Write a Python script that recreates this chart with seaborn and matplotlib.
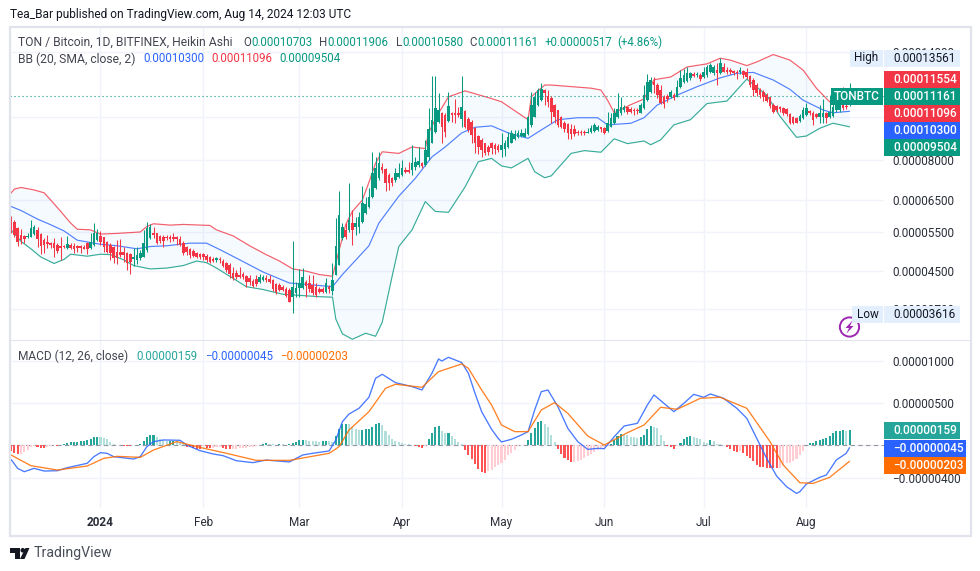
import numpy as np
import pandas as pd
import seaborn as sns
import matplotlib.pyplot as plt
from matplotlib.patches import Rectangle, Circle, Polygon
from matplotlib.transforms import IdentityTransform
from matplotlib.ticker import FixedLocator, FixedFormatter, NullLocator

# all prices are in units of 0.00000001 BTC
ha_open = [5965,5812,5615,5424,5397,5360,5378,5453,5567,5443,
    5286,5240,5213,5195,5150,5124,5124,5062,5150,5124,
    5124,5124,5106,5195,5062,5150,5286,5397,5360,5240,
    5150,5106,4976,4976,4976,4933,4916,4781,4765,4806,
    4848,5019,5332,5471,5471,5397,5378,5378,5360,5360,
    5360,5323,5195,5106,5036,5002,4950,4916,4916,4865,
    4848,4798,4765,4798,4749,4684,4643,4447,4447,4409,
    4431,4386,4334,4281,4311,4245,4296,4334,4311,4296,
    4208,4186,4136,4093,4079,3941,4009,4115,4115,4259,
    4237,4186,4150,4093,4093,4044,4150,4065,4409,4643,
    5332,5567,5567,5762,5664,5664,5812,6069,6282,6616,
    6908,7275,7728,7622,7414,7288,7213,7338,7414,7596,
    7596,7596,7728,7795,7890,7795,8139,8722,9265,9758,
    10188,10100,9808,10225,10188,10188,9876,10313,9876,9758,
    9426,9060,8874,8722,8572,8722,8647,8605,8425,8450,
    8543,8752,8905,8999,9060,9029,9155,9590,10014,10640,
    10917,11497,11145,11010,10640,10366,9980,9708,9640,9376,
    9376,9265,9265,9265,9218,9265,9295,9345,9475,9426,
    9315,9508,9674,9980,10188,10366,10510,10440,10366,10366,
    10188,10455,10917,11400,12005,11800,11497,11107,11145,11107,
    11203,11107,11660,12005,12068,12215,12492,12407,12428,12278,
    12428,12642,12536,12780,12536,12930,12780,12760,12710,12642,
    12600,12710,12642,12364,12110,11800,11497,11400,11203,11070,
    10640,10582,10510,10455,10400,10150,9980,9928,9808,9928,
    10100,10330,10225,10150,10014,9980,10188,9980,10050,10366,
    10366,10640,10582,10703]
ha_high = [5986,5863,5664,5586,5424,5471,5863,5713,5664,5471,
    5332,5424,5240,5332,5195,5360,5150,5397,5195,5195,
    5150,5150,5150,5240,5471,5762,5586,5548,5378,5268,
    5195,5124,5286,5304,5106,4976,4933,5062,5106,5019,
    5567,5812,5742,5664,5490,5424,5424,5424,5424,5471,
    5397,5397,5268,5124,5062,5036,4976,4950,4933,4916,
    4865,4831,4848,4831,4781,4725,4684,4603,4525,4603,
    4486,4409,4409,4311,4409,4431,4409,4409,4409,4311,
    4223,4223,4186,4150,4115,5268,4245,4541,4564,4296,
    4409,4409,4223,4136,4136,4334,4186,4684,5914,6824,
    5762,5782,7114,6174,5965,6122,6992,6616,6907,8350,
    8139,8350,7863,7660,7466,7338,7660,7863,8000,7728,
    7931,8647,8139,8573,7931,8874,10455,12364,12364,11300,
    10277,10188,11400,10277,10955,10546,12364,10366,10014,9842,
    9508,9108,8952,8752,8647,8797,8722,8680,9186,8874,
    9265,9345,9345,9345,9376,9426,10050,11400,11400,11600,
    11902,11536,11497,11145,10693,10366,10050,9808,9674,9640,
    9590,9345,9345,9345,9426,9590,9674,9590,9508,9475,
    10277,10188,10455,11340,11107,10640,10546,10510,10455,10455,
    10730,11800,12526,12321,12278,11902,11800,11203,11260,11497,
    11300,12110,12750,12815,12970,12645,12600,12600,12536,12975,
    13090,13200,13090,13200,13548,13200,12930,12860,12780,12780,
    12930,12780,12860,12428,12215,11902,11600,11497,11340,11107,
    10730,10640,10582,10510,10455,10188,10050,9980,10150,10510,
    10730,10366,10330,10225,10640,10955,10277,11203,10917,11107,
    11300,11698,10693,11906]
ha_low = [5471,5360,5133,5168,5195,5341,5360,5424,5106,4916,
    4933,5062,5062,4848,4933,4765,5062,5036,5036,4950,
    4976,4933,5036,4916,5036,5124,5268,5150,4976,4933,
    4765,4684,4667,4848,4725,4525,4431,4619,4667,4765,
    4831,4976,5304,5332,5177,5195,5089,5286,5240,5268,
    5150,5124,4890,4890,4806,4831,4806,4781,4765,4725,
    4684,4717,4725,4684,4587,4486,4334,4296,4311,4334,
    4311,4150,4186,4136,4165,4223,4281,4259,4237,4065,
    3995,4065,4065,3927,3840,3615,3927,3941,4093,3927,
    4044,3975,3941,4023,4009,4009,4009,3975,4409,4643,
    5286,5304,5519,5150,5424,5471,5782,6048,6228,6560,
    6872,7213,7466,6824,6848,6992,7151,7275,7375,7466,
    7466,7414,7596,7728,7660,7755,8000,8722,9186,9674,
    8722,9029,9758,9758,9674,10014,9508,9426,9265,8722,
    8305,8250,8139,8210,8210,8250,8250,8350,8110,8165,
    8497,8722,8874,8952,8999,8999,9108,9508,9980,10582,
    10880,10640,10510,9674,9674,9508,9426,9265,8905,8905,
    9060,9108,9108,9108,9186,9186,9265,9295,9265,9155,
    9265,9475,9640,9928,10100,10277,10150,10188,10100,10150,
    10188,10400,10880,11340,11300,11010,10693,10455,10825,11010,
    10917,11070,11600,11940,12005,12110,12278,12321,12068,12215,
    12321,12536,12428,11800,12492,12600,12492,12492,12428,12152,
    12492,12215,12152,11698,11145,11145,11010,10880,10825,10455,
    10225,10277,10277,10100,10050,9640,9640,9674,9758,9876,
    10050,10100,9590,9928,9674,9708,9674,9928,9980,10277,
    10277,10366,10440,10580]
ha_close = [5567,5424,5240,5286,5323,5397,5615,5664,5304,5124,
    5150,5168,5150,5062,5002,5062,5089,5177,5062,5036,
    5062,5062,5053,5036,5240,5471,5490,5240,5106,4976,
    4933,4806,4806,4890,4890,4700,4725,4848,4890,4950,
    5195,5615,5664,5424,5195,5268,5268,5332,5323,5323,
    5304,5150,4933,4976,4890,4865,4848,4831,4831,4765,
    4725,4749,4806,4765,4619,4525,4431,4334,4356,4356,
    4371,4259,4259,4165,4208,4371,4356,4296,4259,4093,
    4044,4079,4079,3955,3840,4136,4115,4223,4371,4165,
    4093,4009,3975,4044,4044,4223,4093,4296,5124,6017,
    5664,5378,5863,5567,5782,5965,6391,6369,6616,7466,
    7660,7863,7596,7089,7114,7114,7466,7492,7660,7518,
    7518,7890,7931,7973,7755,8425,9376,9842,10455,10366,
    9508,9265,10582,10100,10100,10100,10510,9508,9345,9108,
    8722,8572,8425,8305,8350,8497,8450,8425,8647,8722,
    9029,9186,9155,9218,9186,9218,9980,10640,11107,11497,
    11536,11300,10825,10277,9980,9590,9508,9376,9186,9155,
    9155,9186,9186,9186,9265,9426,9590,9508,9376,9218,
    9674,9928,10188,10400,10510,10510,10277,10260,10295,10295,
    10640,11203,12005,12110,11800,11203,10765,10693,10955,11400,
    11010,11698,12215,12428,12536,12536,12385,12492,12152,12642,
    12975,13090,12975,12536,13200,12642,12600,12600,12536,12536,
    12780,12428,12321,11800,11497,11300,11203,11107,10880,10582,
    10277,10366,10400,10225,10150,9708,9674,9708,10050,10366,
    10455,10188,9842,9980,10188,10225,9928,10277,10546,10640,
    10693,10455,10510,11161]

# Bollinger bands, read at the bends of each line
bb_up_days = [0,1,3,7,10,12,15,18,20,24,27,32,39,41,43,48,52,60,62,67,72,77,81,85,89,93,97,
    101,103,106,108,110,112,117,121,125,126,129,132,137,145,148,156,157,161,163,175,178,180,182,
    187,191,194,199,204,210,214,217,222,225,230,235,239,243,247,250,253]
bb_up = [6740,6880,6940,6850,6750,6500,6130,5770,5590,5570,5450,5470,5510,5670,5750,5710,5730,5700,5570,5400,5130,4900,4740,4550,4500,4420,4380,
    5730,6130,6500,7130,7870,8350,8280,8560,8490,9220,10200,11100,11450,11000,10820,9860,11107,11800,11800,11610,11500,10910,10220,
    10660,10980,12130,12300,12960,13170,13560,13430,13050,13300,13820,13430,12750,11610,10820,10850,11096]
bb_mid_days = [0,3,8,12,16,20,27,32,38,42,47,54,59,63,69,76,84,89,97,100,108,111,117,122,127,131,136,140,145,
    150,156,160,165,171,177,180,187,191,195,201,207,214,219,224,230,235,239,245,248,253]
bb_mid = [6290,6160,5890,5720,5540,5280,5170,5130,5050,5110,5130,5200,5200,5030,4770,4480,4230,4200,4150,4420,5130,5770,6630,7280,8130,8560,9210,9480,9550,
    9210,8950,9350,9860,9960,9960,9600,9680,9960,10640,11200,11700,12250,12540,12600,12110,11540,10910,10370,10220,10300]
bb_low_days = [0,3,6,9,13,16,18,23,27,30,34,37,42,47,52,56,59,62,66,71,76,82,93,97,98,100,103,107,110,112,115,117,121,125,128,132,137,141,145,
    148,151,156,158,161,163,169,173,178,182,186,191,193,196,200,205,210,216,222,228,232,237,240,244,248,253]
bb_low = [5570,5250,5050,4840,4680,4780,4910,4860,4910,4900,4770,4630,4550,4570,4630,4740,4700,4570,4380,4150,4090,3990,3940,3930,3510,3250,3160,3260,3210,3450,4380,5110,5570,6450,6130,6100,6960,7930,8070,
    7760,7680,8070,7530,7300,7370,8280,8400,8330,8930,8710,8830,8660,8880,9600,9860,10720,10860,12170,11200,10040,9000,9060,9430,9680,9504]

macd_days = [0,2,4,7,10,14,17,23,25,27,29,31,37,39,41,43,46,51,53,57,61,64,68,73,77,84,88,91,96,98,100,102,105,108,110,112,116,121,124,127,129,130,132,136,138,140,142,145,
    147,148,151,154,156,158,160,162,165,168,171,174,177,179,182,185,189,192,194,197,200,203,206,209,211,215,219,222,225,228,231,234,237,238,240,244,246,249,252,253]
macd = [-175,-282,-322,-282,-314,-310,-274,-222,-143,-95,-103,-143,-171,-143,-24,36,56,52,-4,-71,-111,-131,-191,-214,-183,-206,-123,-103,-75,56,274,365,433,564,790,838,738,691,651,850,1020,996,1040,977,850,611,393,183,
    75,32,64,115,155,413,631,651,453,195,36,-56,-44,-48,95,222,254,472,592,492,393,492,599,564,603,552,433,314,75,-163,-373,-500,-580,-560,-468,-389,-361,-183,-103,-36]
signal_days = [0,6,14,23,28,32,39,43,50,57,65,74,84,96,99,102,108,113,116,124,129,136,138,142,145,
    148,152,156,160,164,168,174,179,186,191,196,201,208,214,222,229,233,238,242,247,253]
signal = [-123,-250,-302,-254,-163,-139,-151,-64,36,-32,-103,-187,-187,-103,-24,175,393,671,719,683,869,961,909,651,472,
    234,155,155,413,500,373,103,-4,143,234,445,421,552,564,433,36,-242,-453,-461,-389,-198]
hist = [-72,-96,-112,-108,-88,-64,-32,-16,-24,-40,
    -40,-24,-12,-8,-12,-4,8,24,28,32,
    36,40,48,56,72,88,96,92,80,64,
    36,12,-4,-8,-12,-16,-16,-8,-4,8,
    40,96,116,120,96,72,56,44,48,48,
    40,24,8,-24,-32,-40,-52,-56,-20,-36,
    -40,-36,-32,-28,-44,-48,-56,-52,-48,-44,
    -40,-36,-32,-24,-16,-4,12,20,12,4,
    -4,8,4,-4,8,16,32,52,60,56,
    48,44,40,36,40,48,40,36,100,192,
    240,242,240,208,184,176,178,184,192,216,
    240,260,232,160,112,72,48,32,20,12,
    4,-8,-16,-24,-36,-12,72,140,216,224,
    168,136,144,108,72,32,12,-60,-120,-176,
    -232,-288,-320,-340,-312,-300,-260,-248,-224,-180,
    -128,-96,-64,-16,-8,0,56,140,200,264,
    284,240,208,120,32,-56,-112,-160,-188,-208,
    -206,-200,-184,-160,-136,-112,-88,-64,-40,-24,
    -12,12,60,100,128,120,112,96,88,80,
    88,120,184,224,216,200,120,48,-20,-32,
    -48,-12,24,64,88,108,96,84,72,32,
    24,56,40,12,8,-8,-24,-48,-72,-88,
    -80,-104,-140,-160,-200,-240,-260,-268,-272,-274,
    -276,-280,-272,-248,-224,-220,-200,-176,-128,-72,
    -8,16,24,40,56,72,80,104,144,160,
    168,170,160,172]

month_days = [27, 58, 87, 118, 148, 179, 209, 240]
month_labels = ["2024", "Feb", "Mar", "Apr", "May", "Jun", "Jul", "Aug"]
price_ticks = [14000, 10000, 8000, 6500, 5500, 4500, 3700]
# the labels at 0.0001 and at zero sit fully behind the value boxes in the reference
price_tick_labels = ["0.00014000", "", "0.00008000", "0.00006500", "0.00005500", "0.00004500", "0.00003700"]
macd_ticks = [1000, 500, 0, -400]
macd_tick_labels = ["0.00001000", "0.00000500", "", "\u22120.00000400"]
last_close = 11161

UP, DOWN = "#089981", "#f23645"
BLUE = "#2962ff"
ORANGE = "#ff6d00"
GRID = "#f0f3fa"
TEXT = "#131722"
LEGEND_GREY = "#434651"
FONT = "Roboto"
VALUE_SIZE = 8.3

W, H = 980, 571

sns.set_theme(style="white")
plt.rcParams["font.family"] = [FONT, "DejaVu Sans"]
plt.rcParams["axes.unicode_minus"] = False

fig = plt.figure(figsize=(W / 100, H / 100), dpi=100)


def pane(left, top, right, bottom):
    # axes placed by pixel edges
    return fig.add_axes([left / W, 1 - bottom / H, (right - left) / W, (bottom - top) / H])


def px_text(x, y, s, color=TEXT, size=VALUE_SIZE, ha="left", **kw):
    return fig.text(x / W, 1 - y / H, s, color=color, fontsize=size, ha=ha, va="center", zorder=12, **kw)


def box(x0, y0, x1, y1, color, z=10):
    fig.add_artist(Rectangle((x0, H - y1), x1 - x0, y1 - y0, transform=IdentityTransform(),
                             facecolor=color, edgecolor="none", zorder=z))


ax = pane(10, 28, 884, 340)
ax2 = pane(10, 341, 884, 508)

days = np.arange(len(ha_close))
df = pd.DataFrame({"day": days, "open": ha_open, "high": ha_high, "low": ha_low, "close": ha_close, "hist": hist})

# price pane
ax.set_yscale("log")
poly_x = bb_up_days + bb_low_days[::-1]
poly_y = bb_up + bb_low[::-1]
ax.fill(poly_x, poly_y, color="#2196f3", alpha=0.045, lw=0, zorder=1)
sns.lineplot(x=bb_up_days, y=bb_up, ax=ax, color=DOWN, lw=0.85, alpha=0.8, zorder=2)
sns.lineplot(x=bb_mid_days, y=bb_mid, ax=ax, color=BLUE, lw=0.85, alpha=0.8, zorder=2)
sns.lineplot(x=bb_low_days, y=bb_low, ax=ax, color=UP, lw=0.85, alpha=0.8, zorder=2)

candle_colors = np.where(df["close"] >= df["open"], UP, DOWN)
ax.vlines(df["day"], df["low"], df["high"], colors=candle_colors, lw=0.75, zorder=3)
ax.bar(df["day"], (df["close"] - df["open"]).abs(), bottom=df[["open", "close"]].min(axis=1),
       width=0.78, color=candle_colors, lw=0, zorder=3)
ax.axhline(last_close, color=UP, lw=0.8, ls=(0, (1, 2.6)), zorder=2)

ax.set_ylim(3148, 15859)
ax.yaxis.set_major_locator(FixedLocator(price_ticks))
ax.yaxis.set_major_formatter(FixedFormatter(price_tick_labels))
ax.yaxis.set_minor_locator(NullLocator())
ax.yaxis.tick_right()
ax.set_xticks(month_days)
ax.set_xticklabels([])

# macd pane
prev = df["hist"].shift(1).fillna(df["hist"])
hist_colors = []
for h, p in zip(df["hist"], prev):
    if h >= 0:
        hist_colors.append("#26a69a" if h >= p else "#b2dfdb")
    else:
        hist_colors.append("#ff5252" if h <= p else "#ffcdd2")
df["hist_color"] = hist_colors

ax2.axhline(0, color="#9598a1", lw=0.8, ls=(0, (4, 3)), zorder=1)
sns.barplot(data=df, x="day", y="hist", hue="hist_color", palette={c: c for c in set(hist_colors)},
            native_scale=True, dodge=False, width=0.62, saturation=1, errorbar=None, legend=False,
            linewidth=0, ax=ax2, zorder=2)
sns.lineplot(x=macd_days, y=macd, ax=ax2, color=BLUE, lw=0.95, alpha=0.85, zorder=3)
sns.lineplot(x=signal_days, y=signal, ax=ax2, color=ORANGE, lw=0.95, alpha=0.85, zorder=4)
ax2.set_ylim(-754, 1234)
ax2.yaxis.set_major_locator(FixedLocator(macd_ticks))
ax2.yaxis.set_major_formatter(FixedFormatter(macd_tick_labels))
ax2.yaxis.tick_right()
ax2.set_xticks(month_days)
ax2.set_xticklabels(month_labels)
ax2.get_xticklabels()[0].set_fontweight("bold")
ax2.set_xlabel("")
ax2.set_ylabel("")

for a in (ax, ax2):
    a.set_xlim(-0.3, 263.4)
    a.set_ylabel("")
    a.grid(True, color=GRID, lw=1)
    a.set_axisbelow(True)
    a.tick_params(axis="both", length=0, labelsize=8.5, labelcolor="#2a2e39")
    a.tick_params(axis="y", pad=6)
    a.patch.set_alpha(0)
    for s in a.spines.values():
        s.set_visible(False)
ax2.tick_params(axis="x", pad=6)

# frame round the two panes
fig.add_artist(Rectangle((9.5, H - 536), 961, 509.5, transform=IdentityTransform(), facecolor="none",
                         edgecolor="#e0e3eb", lw=1.6, zorder=6))
box(10, 340, 970, 341, "#e0e3eb", z=6)

# header lines
px_text(10, 14.5, "Tea_Bar published on TradingView.com, Aug 14, 2024 12:03 UTC", size=8.57)
px_text(18, 42, "TON / Bitcoin, 1D, BITFINEX, Heikin Ashi", color=LEGEND_GREY, size=8.75)
header = [(243, "O", LEGEND_GREY), (251, "0.00010703", UP), (319, "H", LEGEND_GREY), (327, "0.00011906", UP),
          (396, "L", LEGEND_GREY), (402, "0.00010580", UP), (469, "C", LEGEND_GREY), (477, "0.00011161", UP),
          (545, "+0.00000517", UP), (617, "(+4.86%)", UP)]
for x, s, c in header:
    px_text(x, 42, s, color=c)
px_text(18, 59, "BB (20, SMA, close, 2)", color=LEGEND_GREY, size=8.7)
for x, s, c in [(143, "0.00010300", BLUE), (211, "0.00011096", DOWN), (279, "0.00009504", UP)]:
    px_text(x, 59, s, color=c)
px_text(18, 356, "MACD (12, 26, close)", color=LEGEND_GREY, size=8.6)
for x, s, c in [(136, "0.00000159", "#26a69a"), (205, "\u22120.00000045", BLUE), (280, "\u22120.00000203", ORANGE)]:
    px_text(x, 356, s, color=c)

# labels on the price scale
HILO = "#e3effd"
box(850, 50, 883, 66.5, HILO)
box(884, 50, 960, 66.5, HILO)
px_text(866.5, 58, "High", ha="center", size=8.5)
px_text(893, 58, "0.00013561", size=8.5)
box(852, 306, 883, 322.5, HILO)
box(884, 306, 960, 322.5, HILO)
px_text(867.5, 314.5, "Low", ha="center", size=8.5)
px_text(893, 314.5, "0.00003616", size=8.5)

scale_labels = [(71.3, 88, DOWN, "0.00011554"), (88, 105, UP, "0.00011161"), (105, 122, DOWN, "0.00011096"),
                (122, 139, BLUE, "0.00010300"), (139, 156, UP, "0.00009504")]
for y0, y1, c, s in scale_labels:
    box(884, y0, 960, y1, c)
    px_text(893, (y0 + y1) / 2, s, color="white", size=8.5, fontweight="medium")
box(831, 88, 883, 105, UP)
px_text(857, 96.5, "TONBTC", color="white", ha="center", size=8.5, fontweight="medium")

macd_labels = [(422, 439, 960, "#26a69a", "0.00000159"), (440, 457, 966, BLUE, "\u22120.00000045"),
               (457, 474, 966, ORANGE, "\u22120.00000203")]
for y0, y1, x1, c, s in macd_labels:
    box(884, y0, x1, y1, c)
    px_text(893, (y0 + y1) / 2, s, color="white", size=8.5, fontweight="medium")

# purple bolt badge
fig.add_artist(Circle((849.5, H - 327), 9.6, transform=IdentityTransform(), facecolor="white",
                      edgecolor="#9c27b0", lw=1.4, zorder=9))
bolt = [(852.5, 320.5), (845.5, 328), (849, 328), (846.5, 333.5), (853.5, 326), (850, 326)]
fig.add_artist(Polygon([(x, H - y) for x, y in bolt], transform=IdentityTransform(), facecolor="#9c27b0",
                       edgecolor="none", zorder=10))

# logo at the bottom
logo = "#131722"
box(10, 548, 19.5, 552.5, logo)
box(14.5, 548, 19.5, 559, logo)
fig.add_artist(Circle((22.8, H - 550.3), 2.3, transform=IdentityTransform(), facecolor=logo, edgecolor="none", zorder=10))
v_mark = [(25.5, 548), (29.5, 548), (24.5, 559), (20, 559)]
fig.add_artist(Polygon([(x, H - y) for x, y in v_mark], transform=IdentityTransform(), facecolor=logo,
                       edgecolor="none", zorder=10))
px_text(33.5, 553.5, "TradingView", color="#4a4e59", size=10.2)

fig.savefig("out.png", dpi=100, facecolor="white")
